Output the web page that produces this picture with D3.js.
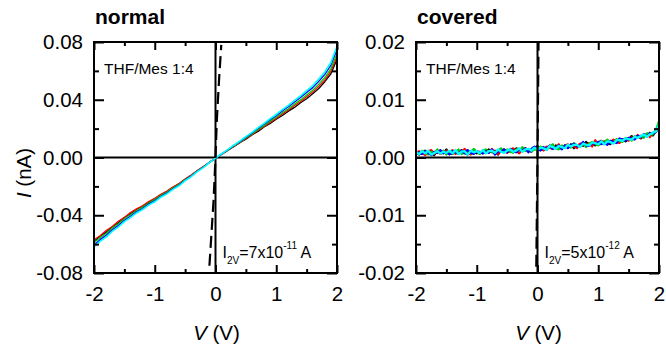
<!DOCTYPE html>
<html>
<head>
<meta charset="utf-8">
<script src="https://cdn.jsdelivr.net/npm/d3@7"></script>
<style>
  html, body { margin: 0; padding: 0; background: #fff; }
  svg { display: block; font-family: "Liberation Sans", Arial, sans-serif; }
</style>
</head>
<body>
<svg id="chart" width="666" height="347"></svg>
<script>
// ---- Sweep voltages (V) ----
const vNormal = [-2.0,-1.9,-1.8,-1.7,-1.6,-1.5,-1.4,-1.3,-1.2,-1.1,-1.0,-0.9,-0.8,-0.7,-0.6,-0.5,-0.4,-0.3,-0.2,-0.1,
  0.0,0.1,0.2,0.3,0.4,0.5,0.6,0.7,0.8,0.9,1.0,1.1,1.2,1.3,1.4,1.5,1.6,1.7,1.8,1.9,2.0];

const vCovered = [-2.00,-1.95,-1.90,-1.85,-1.80,-1.75,-1.70,-1.65,-1.60,-1.55,-1.50,-1.45,-1.40,-1.35,-1.30,-1.25,-1.20,-1.15,-1.10,-1.05,
  -1.00,-0.95,-0.90,-0.85,-0.80,-0.75,-0.70,-0.65,-0.60,-0.55,-0.50,-0.45,-0.40,-0.35,-0.30,-0.25,-0.20,-0.15,-0.10,-0.05,
  0.00,0.05,0.10,0.15,0.20,0.25,0.30,0.35,0.40,0.45,0.50,0.55,0.60,0.65,0.70,0.75,0.80,0.85,0.90,0.95,
  1.00,1.05,1.10,1.15,1.20,1.25,1.30,1.35,1.40,1.45,1.50,1.55,1.60,1.65,1.70,1.75,1.80,1.85,1.90,1.95,2.00];

// ---- "normal" junction: current in nA, five repeated sweeps ----
const normalBlack = [-0.0580,-0.0545,-0.0517,-0.0481,-0.0452,-0.0416,-0.0390,-0.0360,-0.0338,-0.0310,-0.0287,-0.0258,-0.0236,-0.0207,-0.0183,-0.0151,-0.0124,-0.0092,-0.0064,-0.0033,
  -0.0005,0.0021,0.0049,0.0074,0.0102,0.0126,0.0156,0.0181,0.0211,0.0236,0.0265,0.0291,0.0321,0.0347,0.0379,0.0407,0.0442,0.0478,0.0525,0.0580,0.0680];
const normalRed = [-0.0570,-0.0542,-0.0506,-0.0478,-0.0442,-0.0415,-0.0381,-0.0356,-0.0334,-0.0305,-0.0283,-0.0255,-0.0233,-0.0205,-0.0180,-0.0149,-0.0122,-0.0091,-0.0063,-0.0035,
  -0.0005,0.0023,0.0049,0.0078,0.0103,0.0132,0.0158,0.0189,0.0215,0.0245,0.0271,0.0301,0.0329,0.0360,0.0388,0.0421,0.0453,0.0494,0.0538,0.0599,0.0700];
const normalGreen = [-0.0590,-0.0555,-0.0526,-0.0489,-0.0459,-0.0424,-0.0396,-0.0367,-0.0344,-0.0315,-0.0292,-0.0263,-0.0240,-0.0212,-0.0186,-0.0154,-0.0126,-0.0094,-0.0066,-0.0034,
  -0.0005,0.0024,0.0050,0.0080,0.0106,0.0136,0.0163,0.0194,0.0221,0.0252,0.0279,0.0310,0.0338,0.0370,0.0399,0.0433,0.0466,0.0508,0.0554,0.0616,0.0720];
const normalBlue = [-0.0606,-0.0569,-0.0539,-0.0501,-0.0471,-0.0435,-0.0407,-0.0376,-0.0353,-0.0323,-0.0300,-0.0270,-0.0246,-0.0217,-0.0191,-0.0158,-0.0129,-0.0096,-0.0068,-0.0035,
  -0.0005,0.0025,0.0052,0.0083,0.0110,0.0141,0.0169,0.0202,0.0230,0.0262,0.0290,0.0322,0.0351,0.0384,0.0415,0.0450,0.0484,0.0528,0.0576,0.0640,0.0748];
const normalCyan = [-0.0620,-0.0581,-0.0551,-0.0512,-0.0482,-0.0444,-0.0416,-0.0384,-0.0361,-0.0330,-0.0307,-0.0275,-0.0252,-0.0221,-0.0196,-0.0160,-0.0133,-0.0098,-0.0070,-0.0036,
  -0.0005,0.0026,0.0054,0.0085,0.0113,0.0145,0.0174,0.0207,0.0236,0.0269,0.0298,0.0331,0.0361,0.0395,0.0427,0.0463,0.0498,0.0543,0.0592,0.0658,0.0770];

// ---- "covered" junction: current in pA, five repeated sweeps ----
const coveredBlack = [1.0,0.5,0.9,1.2,0.6,0.8,0.4,1.2,1.0,0.8, 1.4,0.7,0.6,1.1,0.9,1.3,0.8,0.5,1.1,1.2,
  0.7,1.0,0.7,1.0,1.4,0.9,1.2,0.5,1.2,1.4, 0.9,1.1,0.9,1.6,1.3,1.1,1.6,1.2,1.0,1.6,
  2.0,1.4,1.3,1.8,1.7,1.5,2.1,1.9,1.5,2.1, 1.8,2.3,1.6,2.1,2.3,2.0,2.7,2.2,2.4,2.1,
  2.6,2.9,2.3,2.6,2.3,3.0,2.9,2.8,3.2,2.8, 3.2,3.7,3.2,3.6,3.3,3.9,3.7,4.3,3.8,4.6,5.7];
const coveredRed = [0.7,1.1,0.8,0.4,1.0,1.3,0.6,1.0,0.6,0.9, 1.2,0.8,1.3,0.6,1.0,0.7,1.5,0.9,0.5,1.0,
  1.1,0.6,1.0,1.3,0.8,1.5,0.9,0.6,1.3,1.1, 0.8,1.3,1.6,1.1,0.7,1.4,1.6,1.3,1.2,1.8,
  1.4,1.7,1.2,1.9,1.8,1.5,1.7,2.3,1.5,2.0, 2.3,1.8,2.0,1.6,2.4,2.3,2.1,2.5,1.9,3.0,
  2.2,2.6,2.8,2.3,2.7,3.1,2.6,2.5,3.2,3.2, 2.9,3.5,3.4,3.9,3.4,3.6,4.1,3.5,4.3,4.4,5.6];
const coveredGreen = [0.8,0.6,1.2,0.9,0.5,1.0,0.7,1.4,0.7,1.2, 0.5,1.0,1.1,0.8,1.4,0.6,0.9,1.2,0.7,1.5,
  1.0,0.6,1.2,1.4,0.9,1.0,0.6,1.2,1.6,0.9, 1.4,1.0,0.8,1.4,1.2,1.8,1.1,1.4,1.1,1.4,
  1.3,1.9,1.7,1.3,1.9,2.3,1.6,1.4,2.1,1.9, 2.1,1.7,2.5,2.1,1.9,2.5,1.8,2.4,2.7,2.3,
  2.1,2.5,2.7,3.1,2.6,2.5,3.2,2.9,2.7,3.4, 3.3,2.9,3.7,3.5,3.8,3.4,4.2,4.1,4.0,4.8,6.3];
const coveredBlue = [0.5,0.9,0.6,1.1,0.8,0.4,1.0,0.8,1.3,0.7, 1.0,0.5,1.1,0.9,0.6,1.2,0.7,1.3,0.8,0.6,
  1.1,0.9,0.7,1.1,0.8,1.4,0.5,1.1,1.0,1.4, 0.9,1.5,1.2,0.9,1.4,1.2,1.6,0.9,1.5,1.9,
  1.5,1.2,1.8,1.5,2.1,1.5,1.8,2.1,1.4,2.1, 1.6,2.1,2.4,1.9,2.1,2.7,2.1,2.0,2.5,2.4,
  2.7,2.3,2.6,2.2,2.9,2.7,2.5,3.3,3.1,2.9, 3.4,3.3,3.1,3.8,3.5,4.1,3.6,4.2,4.2,4.4,5.5];
const coveredCyan = [0.9,0.6,1.1,0.7,1.2,0.5,0.8,1.1,0.7,1.0, 0.8,1.2,0.7,1.3,0.6,1.0,1.1,0.5,1.2,0.9,
  1.1,0.8,1.3,0.7,1.1,1.2,0.8,1.4,1.0,0.8, 1.2,1.4,1.0,1.2,1.6,1.0,1.4,1.5,1.2,1.7,
  1.4,1.7,1.6,1.3,2.0,1.8,1.5,2.0,1.8,1.6, 2.2,1.9,2.2,2.2,1.8,2.4,2.2,2.1,2.6,2.5,
  2.3,2.8,2.3,2.8,2.7,2.4,3.0,3.0,2.9,3.3, 3.2,3.1,3.6,3.4,3.7,4.0,3.6,4.0,4.3,4.5,5.7];

// ---- Dashed reference trace (nA vs V) ----
const refV = [-0.10, -0.07, -0.032, 0.0, 0.022, 0.06, 0.095];
const refI = [-0.075, -0.055, -0.030, 0.0, 0.026, 0.055, 0.078];

// ---- Axis ticks and labels ----
const xMajor = [-2, -1, 0, 1, 2];
const xMinor = [-1.5, -0.5, 0.5, 1.5];
const normalYMajor = [-0.08, -0.04, 0.00, 0.04, 0.08];
const normalYMinor = [-0.06, -0.02, 0.02, 0.06];
const coveredYMajor = [-0.02, -0.01, 0.00, 0.01, 0.02];
const coveredYMinor = [-0.015, -0.005, 0.005, 0.015];
const traceColors = ["#000000", "#ff0000", "#00cc00", "#0000ff", "#00ffff"];

// plain hyphen for negative tick labels
const hyphen = f => d => f(d).replace("\u2212", "-");
const fmtX = hyphen(d3.format("d"));
const fmtY = hyphen(d3.format(".2f"));

const svg = d3.select("#chart");

function drawPanel(opt) {
  const { id, left, right, top, bottom, yDomain, yMajor, yMinor, series, v, title, ann, sup, widths } = opt;
  const x = d3.scaleLinear().domain([-2, 2]).range([left, right]);
  const y = d3.scaleLinear().domain(yDomain).range([bottom, top]);
  const g = svg.append("g");

  g.append("clipPath").attr("id", "clip-" + id)
    .append("rect").attr("x", left).attr("y", top)
    .attr("width", right - left).attr("height", bottom - top);

  // zero lines
  g.append("line").attr("x1", left).attr("x2", right).attr("y1", y(0)).attr("y2", y(0))
    .attr("stroke", "#000").attr("stroke-width", 2);
  g.append("line").attr("x1", x(0)).attr("x2", x(0)).attr("y1", top).attr("y2", bottom)
    .attr("stroke", "#000").attr("stroke-width", 2);

  // traces
  const plot = g.append("g").attr("clip-path", `url(#clip-${id})`);
  const line = d3.line().x(d => x(d[0])).y(d => y(d[1]));
  series.forEach((s, k) => {
    plot.append("path")
      .datum(v.map((vv, i) => [vv, s[i]]))
      .attr("d", line)
      .attr("fill", "none")
      .attr("stroke", traceColors[k])
      .attr("stroke-width", widths[k])
      .attr("stroke-linejoin", "round");
  });

  // dashed reference
  plot.append("path")
    .datum(refV.map((vv, i) => [vv, refI[i]]))
    .attr("d", line)
    .attr("fill", "none")
    .attr("stroke", "#000")
    .attr("stroke-width", 2.2)
    .attr("stroke-dasharray", "12,6");

  // axes with inward ticks
  const styleAxis = sel => {
    sel.select(".domain").remove();
    sel.selectAll(".tick line").attr("stroke", "#000").attr("stroke-width", 2);
    sel.selectAll(".tick text").attr("fill", "#000").attr("font-size", 20.5)
      .attr("font-family", '"Liberation Sans", Arial, sans-serif');
  };
  g.append("g").attr("transform", `translate(0,${bottom})`)
    .call(d3.axisBottom(x).tickValues(xMajor).tickSizeInner(-8).tickSizeOuter(0).tickPadding(13).tickFormat(fmtX))
    .call(styleAxis);
  g.append("g").attr("transform", `translate(0,${bottom})`)
    .call(d3.axisBottom(x).tickValues(xMinor).tickSizeInner(-4).tickSizeOuter(0).tickFormat(""))
    .call(styleAxis);
  g.append("g").attr("transform", `translate(0,${top})`)
    .call(d3.axisTop(x).tickValues(xMajor).tickSizeInner(-8).tickSizeOuter(0).tickFormat(""))
    .call(styleAxis);
  g.append("g").attr("transform", `translate(0,${top})`)
    .call(d3.axisTop(x).tickValues(xMinor).tickSizeInner(-4).tickSizeOuter(0).tickFormat(""))
    .call(styleAxis);
  g.append("g").attr("transform", `translate(${left},0)`)
    .call(d3.axisLeft(y).tickValues(yMajor).tickSizeInner(-10).tickSizeOuter(0).tickPadding(11).tickFormat(fmtY))
    .call(styleAxis);
  g.append("g").attr("transform", `translate(${left},0)`)
    .call(d3.axisLeft(y).tickValues(yMinor).tickSizeInner(-5).tickSizeOuter(0).tickFormat(""))
    .call(styleAxis);
  g.append("g").attr("transform", `translate(${right},0)`)
    .call(d3.axisRight(y).tickValues(yMajor).tickSizeInner(-10).tickSizeOuter(0).tickFormat(""))
    .call(styleAxis);
  g.append("g").attr("transform", `translate(${right},0)`)
    .call(d3.axisRight(y).tickValues(yMinor).tickSizeInner(-5).tickSizeOuter(0).tickFormat(""))
    .call(styleAxis);

  // frame
  g.append("rect").attr("x", left).attr("y", top)
    .attr("width", right - left).attr("height", bottom - top)
    .attr("fill", "none").attr("stroke", "#000").attr("stroke-width", 2);

  // panel title
  g.append("text").attr("x", left + 1).attr("y", 24)
    .attr("font-size", 21).attr("font-weight", "bold").text(title);

  // solvent label
  g.append("text").attr("x", left + 10).attr("y", 74)
    .attr("font-size", 15.5).text("THF/Mes 1:4");

  // current at 2 V
  const t = g.append("text").attr("x", x(0) + 7).attr("y", 258).attr("font-size", 16);
  t.append("tspan").text("I");
  t.append("tspan").attr("font-size", 10).attr("dy", 6).text("2V");
  t.append("tspan").attr("dy", -6).text("=" + ann + "x10");
  t.append("tspan").attr("font-size", 10).attr("dy", -9).text(sup);
  t.append("tspan").attr("dy", 9).text(" A");

  // x-axis title
  const xt = g.append("text").attr("x", (left + right) / 2 + 1).attr("y", 340)
    .attr("font-size", 20.5).attr("text-anchor", "middle");
  xt.append("tspan").attr("font-style", "italic").text("V");
  xt.append("tspan").text(" (V)");
}

drawPanel({
  id: "normal", left: 94, right: 337, top: 42, bottom: 273,
  yDomain: [-0.08, 0.08], yMajor: normalYMajor, yMinor: normalYMinor,
  v: vNormal,
  series: [normalBlack, normalRed, normalGreen, normalBlue, normalCyan],
  widths: [1.3, 1.3, 1.3, 1.3, 1.6],
  title: "normal", ann: "7", sup: "-11"
});

drawPanel({
  id: "covered", left: 416, right: 659, top: 42, bottom: 273,
  yDomain: [-0.02, 0.02], yMajor: coveredYMajor, yMinor: coveredYMinor,
  v: vCovered,
  series: [coveredBlack, coveredRed, coveredGreen, coveredBlue, coveredCyan].map(s => s.map(pA => pA / 1000)),
  widths: [2.1, 2.1, 2.1, 2.1, 2.3],
  title: "covered", ann: "5", sup: "-12"
});

// y-axis title (shared, left)
const yt = svg.append("text")
  .attr("transform", "translate(31,173) rotate(-90)")
  .attr("font-size", 20.5).attr("text-anchor", "middle");
yt.append("tspan").attr("font-style", "italic").text("I");
yt.append("tspan").text(" (nA)");
</script>
</body>
</html>
